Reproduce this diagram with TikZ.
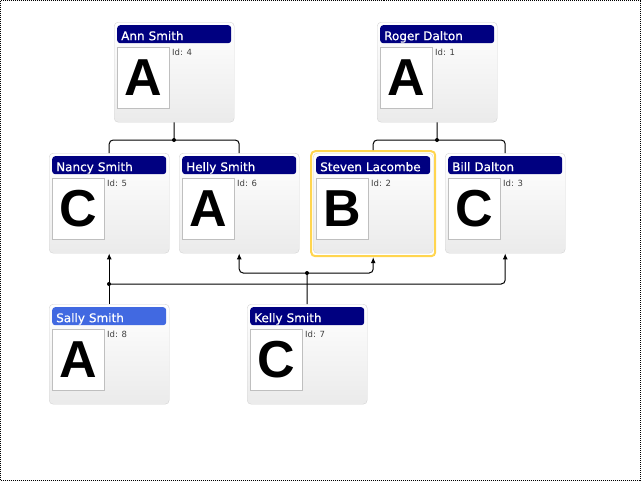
\documentclass[tikz,border=0pt]{standalone}
\usepackage{fontspec}
\setmainfont{DejaVu Sans}
\newfontfamily\barfont[FakeBold=0.6]{DejaVu Sans}
\newfontfamily\photofont{Liberation Sans}
\usetikzlibrary{arrows.meta,positioning}
\definecolor{barnavy}{HTML}{000080}
\definecolor{barblue}{HTML}{4169E1}
\definecolor{hlgold}{HTML}{FFD54F}
\tikzset{
  card/.style={draw=black!17, rounded corners=4pt, top color=white, bottom color=black!8,
    minimum width=120pt, minimum height=100pt, inner sep=0pt, anchor=north west},
  namebar/.style={rounded corners=3pt, text=white, anchor=north west, inner xsep=4pt, inner ysep=0pt,
    text width=106pt, text height=15pt, text depth=3pt, minimum height=18pt,
    font=\barfont\fontsize{12}{14}\selectfont},
  photo/.style={draw=black!25, fill=white, minimum width=52pt, minimum height=61pt, inner sep=0pt,
    anchor=north west, font=\photofont\fontsize{52}{52}\bfseries\selectfont},
  idtext/.style={anchor=base west, inner sep=0pt, text=black!75, font=\fontsize{8.5}{10}\selectfont},
  link/.style={line width=1pt, rounded corners=4pt},
  jdot/.style={circle, fill, inner sep=0pt, minimum size=4pt},
}
\begin{document}
\begin{tikzpicture}[x=1pt, y=-1pt, >={Latex[length=6pt,width=5pt]}]
  \useasboundingbox (0,0) rectangle (642,482);
  \draw[line width=1pt, dash pattern=on 1pt off 1pt] (0.5,0.5) rectangle (640.5,480.5);
  % cards
  \foreach \n/\x/\y/\t/\l/\i/\c in {ann/114/22/Ann Smith/A/4/barnavy, roger/377/22/Roger Dalton/A/1/barnavy,
      nancy/49/153/Nancy Smith/C/5/barnavy, helly/179/153/Helly Smith/A/6/barnavy,
      steven/313/153/Steven Lacombe/B/2/barnavy, bill/445/153/Bill Dalton/C/3/barnavy,
      sally/49/304/Sally Smith/A/8/barblue, kelly/247/304/Kelly Smith/C/7/barnavy} {
    \node[card] (\n) at (\x,\y) {};
    \node[namebar, fill=\c] (\n bar) at ([shift={(3,3)}]\n.north west) {\t};
    \node[photo] (\n photo) at ([shift={(3,25)}]\n.north west) {\l};
    \node[idtext] (\n id) at ([shift={(58,33)}]\n.north west) {Id: \i};
  }
  \node[draw=hlgold, line width=2pt, rounded corners=4pt, minimum width=124pt, minimum height=105pt,
    inner sep=0pt] (stevenframe) at ([yshift=-0.5pt]steven.center) {};
  % junctions
  \node[jdot] (annj) at (174,140) {};
  \node[jdot] (rogerj) at (437,140) {};
  \node[jdot] (sallyj) at (109,284) {};
  \node[jdot] (kellyj) at (307,273) {};
  % links
  \draw[link] (ann.south) -- (annj.center);
  \draw[link] (annj.center) -| (nancy.north);
  \draw[link] (annj.center) -| (helly.north);
  \draw[link] (roger.south) -- (rogerj.center);
  \draw[link] (rogerj.center) -| (stevenframe.north);
  \draw[link] (rogerj.center) -| (bill.north);
  \draw[link, ->] (sally.north) -- (nancy.south);
  \draw[link, ->] (sallyj.center) -| (bill.south);
  \draw[link] (kelly.north) -- (kellyj.center);
  \draw[link, ->] (kellyj.center) -| (helly.south);
  \draw[link, ->] (kellyj.center) -| (stevenframe.south);
\end{tikzpicture}
\end{document}
